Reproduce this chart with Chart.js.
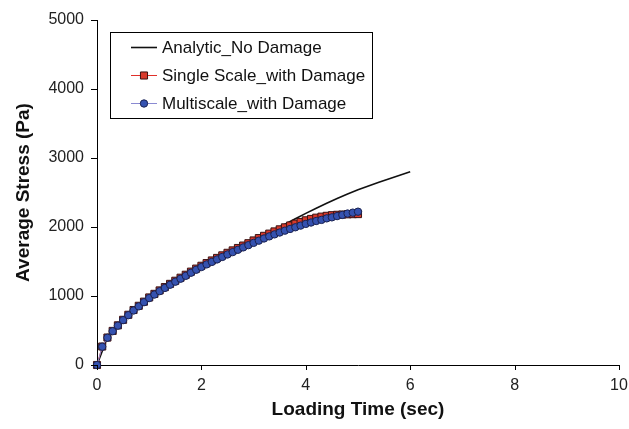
<!DOCTYPE html>
<html>
<head>
<meta charset="utf-8">
<script src="https://cdn.jsdelivr.net/npm/chart.js@4.4.0/dist/chart.umd.min.js"></script>
<style>
  html, body { margin: 0; padding: 0; background: #fff; }
  #wrap { width: 629px; height: 429px; }
</style>
</head>
<body>
<div id="wrap"><canvas id="stressChart"></canvas></div>
<script>
// loading time (sec) for the two damage models
const timeDamage = [
  0, 0.1, 0.2, 0.3, 0.4, 0.5, 0.6, 0.7, 0.8, 0.9,
  1.0, 1.1, 1.2, 1.3, 1.4, 1.5, 1.6, 1.7, 1.8, 1.9,
  2.0, 2.1, 2.2, 2.3, 2.4, 2.5, 2.6, 2.7, 2.8, 2.9,
  3.0, 3.1, 3.2, 3.3, 3.4, 3.5, 3.6, 3.7, 3.8, 3.9,
  4.0, 4.1, 4.2, 4.3, 4.4, 4.5, 4.6, 4.7, 4.8, 4.9, 5.0
];
const singleScale = [
  0, 268, 398, 494, 575, 655, 728, 797, 858, 918,
  979, 1031, 1081, 1129, 1176, 1221, 1265, 1308, 1353, 1397,
  1438, 1477, 1515, 1552, 1589, 1626, 1661, 1696, 1731, 1765,
  1805, 1839, 1872, 1904, 1936, 1966, 1995, 2022, 2048, 2073,
  2097, 2117, 2135, 2150, 2162, 2171, 2177, 2181, 2184, 2186, 2187
];
const multiScale = [
  0, 265, 395, 490, 570, 650, 722, 790, 850, 910,
  970, 1021, 1070, 1117, 1163, 1207, 1250, 1292, 1337, 1380,
  1420, 1458, 1494, 1530, 1566, 1602, 1636, 1670, 1704, 1737,
  1770, 1802, 1834, 1864, 1893, 1920, 1947, 1972, 1996, 2020,
  2045, 2065, 2087, 2103, 2125, 2140, 2158, 2175, 2195, 2208, 2222
];
// analytic solution without damage
const timeAnalytic = [
  0, 0.2, 0.4, 0.6, 0.8, 1.0, 1.2, 1.4, 1.6, 1.8,
  2.0, 2.2, 2.4, 2.6, 2.8, 3.0, 3.2, 3.4, 3.6, 3.8,
  4.0, 4.2, 4.4, 4.6, 4.8, 5.0, 5.2, 5.4, 5.6, 5.8, 6.0
];
const analytic = [
  0, 398, 575, 728, 858, 979, 1081, 1176, 1265, 1353,
  1438, 1515, 1590, 1664, 1737, 1808, 1884, 1962, 2040, 2120,
  2198, 2272, 2343, 2413, 2478, 2540, 2595, 2648, 2700, 2750, 2800
];
const xTicks = [0, 2, 4, 6, 8, 10];
const yTicks = [0, 1000, 2000, 3000, 4000, 5000];

const toPoints = (xs, ys) => xs.map((x, i) => ({ x: x, y: ys[i] }));

const FONT = "'Liberation Sans', Arial, sans-serif";

// legend box drawn inside the plot, top left
const legendBox = {
  id: 'legendBox',
  afterDraw(chart) {
    const ctx = chart.ctx;
    const rows = [2, 1, 0]; // analytic, single, multi (dataset indices)
    ctx.save();
    ctx.strokeStyle = '#000';
    ctx.lineWidth = 1;
    ctx.strokeRect(110.5, 32.5, 262, 86);
    ctx.font = '17px ' + FONT;
    ctx.textBaseline = 'middle';
    rows.forEach((di, r) => {
      const ds = chart.data.datasets[di];
      const y = 47.5 + r * 28;
      ctx.beginPath();
      ctx.strokeStyle = ds.borderColor;
      ctx.lineWidth = ds.borderWidth;
      ctx.moveTo(131, y);
      ctx.lineTo(157, y);
      ctx.stroke();
      if (ds.pointRadius > 0) {
        ctx.fillStyle = ds.pointBackgroundColor;
        ctx.strokeStyle = ds.pointBorderColor;
        ctx.lineWidth = ds.pointBorderWidth;
        ctx.beginPath();
        if (ds.pointStyle === 'rect') {
          const s = ds.pointRadius * Math.SQRT1_2;
          ctx.rect(144 - s, y - s, 2 * s, 2 * s);
        } else {
          ctx.arc(144, y, ds.pointRadius, 0, Math.PI * 2);
        }
        ctx.fill();
        ctx.stroke();
      }
      ctx.fillStyle = '#111';
      ctx.fillText(ds.label, 162, y + 1);
    });
    ctx.restore();
  }
};

// small outside tick marks on both axes
const tickMarks = {
  id: 'tickMarks',
  afterDraw(chart) {
    const ctx = chart.ctx;
    const xs = chart.scales.x;
    const ys = chart.scales.y;
    const area = chart.chartArea;
    ctx.save();
    ctx.strokeStyle = '#000';
    ctx.lineWidth = 1;
    ctx.beginPath();
    xTicks.forEach(v => {
      const px = Math.round(xs.getPixelForValue(v)) + 0.5;
      ctx.moveTo(px, area.bottom);
      ctx.lineTo(px, area.bottom + 5);
    });
    yTicks.forEach(v => {
      const py = Math.round(ys.getPixelForValue(v)) + 0.5;
      ctx.moveTo(area.left - 6, py);
      ctx.lineTo(area.left, py);
    });
    ctx.stroke();
    ctx.restore();
  }
};

new Chart(document.getElementById('stressChart'), {
  type: 'scatter',
  data: {
    datasets: [
      {
        label: 'Multiscale_with Damage',
        data: toPoints(timeDamage, multiScale),
        showLine: true,
        borderColor: '#8a8ad2',
        borderWidth: 1,
        pointStyle: 'circle',
        pointRadius: 3.7,
        pointBorderWidth: 1,
        pointBackgroundColor: '#3552b0',
        pointBorderColor: '#1b2250',
        clip: false,
        order: 0
      },
      {
        label: 'Single Scale_with Damage',
        data: toPoints(timeDamage, singleScale),
        showLine: true,
        borderColor: '#e0302a',
        borderWidth: 1,
        pointStyle: 'rect',
        pointRadius: 5,
        pointBorderWidth: 1,
        pointBackgroundColor: '#d8392b',
        pointBorderColor: '#3a1212',
        clip: false,
        order: 1
      },
      {
        label: 'Analytic_No Damage',
        data: toPoints(timeAnalytic, analytic),
        showLine: true,
        borderColor: '#111',
        borderWidth: 1.6,
        pointRadius: 0,
        clip: false,
        order: 2
      }
    ]
  },
  options: {
    responsive: true,
    maintainAspectRatio: false,
    animation: false,
    layout: { padding: { top: 20, right: 10, left: 0, bottom: 0 } },
    plugins: {
      legend: { display: false },
      tooltip: { enabled: false }
    },
    scales: {
      x: {
        type: 'linear',
        min: 0,
        max: 10,
        afterBuildTicks: (scale) => { scale.ticks = xTicks.map(v => ({ value: v })); },
        afterFit: (scale) => {
          scale.height = 64;
          scale.paddingLeft = 0;
          scale.paddingRight = 0;
        },
        grid: { display: false, drawTicks: true, tickLength: 5 },
        border: { display: true, color: '#000', width: 1 },
        ticks: {
          color: '#222',
          padding: 6,
          font: { family: FONT, size: 16 },
          callback: (v) => String(v)
        },
        title: {
          display: true,
          text: 'Loading Time (sec)',
          color: '#111',
          padding: { top: 0, bottom: 8 },
          font: { family: FONT, size: 19, weight: 'bold' }
        }
      },
      y: {
        type: 'linear',
        min: 0,
        max: 5000,
        afterBuildTicks: (scale) => { scale.ticks = yTicks.map(v => ({ value: v })); },
        afterFit: (scale) => {
          scale.width = 97;
          scale.paddingTop = 0;
          scale.paddingBottom = 0;
        },
        grid: { display: false, drawTicks: true, tickLength: 6 },
        border: { display: true, color: '#000', width: 1 },
        ticks: {
          color: '#222',
          padding: 7,
          font: { family: FONT, size: 16 },
          callback: (v) => String(v)
        },
        title: {
          display: true,
          text: 'Average Stress (Pa)',
          color: '#111',
          padding: { top: 12, bottom: 0 },
          font: { family: FONT, size: 19, weight: 'bold' }
        }
      }
    }
  },
  plugins: [legendBox, tickMarks]
});
</script>
</body>
</html>
